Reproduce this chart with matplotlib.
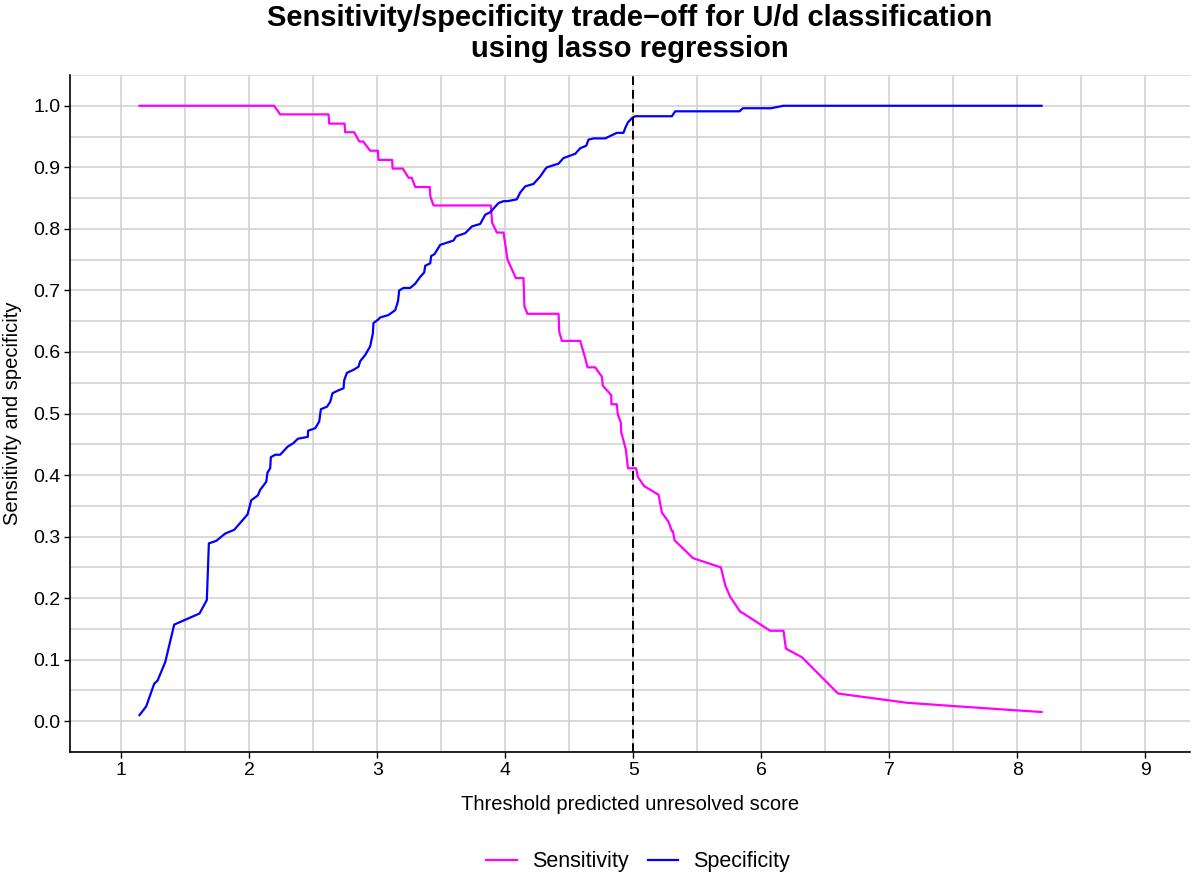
import matplotlib
matplotlib.use("Agg")
import matplotlib.pyplot as plt
import numpy as np

plt.rcParams['font.family'] = ['Liberation Sans', 'DejaVu Sans']

# Sensitivity curve (threshold, value)
sens_x = [1.143, 2.195, 2.242, 2.62, 2.625, 2.745, 2.75, 2.82, 2.86, 2.89,
          2.945, 3.005, 3.01, 3.117, 3.12, 3.2, 3.245, 3.27, 3.297, 3.41,
          3.415, 3.44, 3.888, 3.898, 3.935, 3.987, 4.018, 4.083, 4.143, 4.15,
          4.174, 4.417, 4.422, 4.443, 4.586, 4.625, 4.643, 4.703, 4.755, 4.763,
          4.828, 4.83, 4.872, 4.88, 4.904, 4.906, 4.943, 4.959, 5.023, 5.036,
          5.086, 5.198, 5.224, 5.276, 5.302, 5.31, 5.323, 5.467, 5.685, 5.719,
          5.758, 5.836, 5.862, 6.07, 6.174, 6.193, 6.318, 6.6, 7.138, 7.477,
          7.971, 8.19]
sens_y = [1.0, 1.0, 0.986, 0.986, 0.971, 0.971, 0.957, 0.957, 0.942, 0.942,
          0.927, 0.927, 0.912, 0.912, 0.898, 0.898, 0.883, 0.883, 0.868, 0.868,
          0.853, 0.838, 0.838, 0.81, 0.794, 0.794, 0.75, 0.72, 0.72, 0.674,
          0.662, 0.662, 0.633, 0.618, 0.618, 0.59, 0.575, 0.575, 0.56, 0.545,
          0.53, 0.515, 0.515, 0.498, 0.485, 0.47, 0.441, 0.411, 0.411, 0.397,
          0.382, 0.368, 0.339, 0.324, 0.309, 0.309, 0.294, 0.265, 0.25, 0.221,
          0.202, 0.178, 0.175, 0.147, 0.147, 0.118, 0.104, 0.045, 0.030, 0.025,
          0.018, 0.015]

# Specificity curve
spec_x = [1.143, 1.195, 1.258, 1.284, 1.344, 1.414, 1.612, 1.669, 1.685, 1.742,
          1.813, 1.883, 1.987, 2.016, 2.068, 2.086, 2.133, 2.143, 2.164, 2.169,
          2.203, 2.242, 2.3, 2.346, 2.38, 2.458, 2.46, 2.516, 2.547, 2.56,
          2.607, 2.633, 2.651, 2.69, 2.737, 2.742, 2.763, 2.815, 2.854, 2.867,
          2.906, 2.945, 2.966, 2.971, 3.01, 3.023, 3.088, 3.141, 3.162, 3.172,
          3.206, 3.258, 3.297, 3.336, 3.367, 3.375, 3.414, 3.422, 3.448, 3.492,
          3.596, 3.617, 3.688, 3.74, 3.805, 3.844, 3.883, 3.948, 3.987, 4.018,
          4.091, 4.117, 4.156, 4.221, 4.273, 4.313, 4.326, 4.417, 4.455, 4.547,
          4.586, 4.633, 4.651, 4.69, 4.781, 4.872, 4.924, 4.938, 4.959, 4.99,
          5.016, 5.302, 5.328, 5.83, 5.857, 6.076, 6.174, 8.19]
spec_y = [0.010, 0.024, 0.061, 0.066, 0.096, 0.157, 0.175, 0.197, 0.289, 0.293,
          0.305, 0.311, 0.336, 0.359, 0.367, 0.376, 0.389, 0.404, 0.411, 0.429,
          0.433, 0.433, 0.446, 0.452, 0.459, 0.462, 0.472, 0.476, 0.487, 0.507,
          0.511, 0.519, 0.533, 0.537, 0.541, 0.554, 0.566, 0.571, 0.576, 0.585,
          0.595, 0.609, 0.630, 0.647, 0.653, 0.656, 0.660, 0.668, 0.682, 0.700,
          0.704, 0.704, 0.711, 0.722, 0.729, 0.740, 0.744, 0.756, 0.759, 0.774,
          0.781, 0.788, 0.793, 0.804, 0.808, 0.823, 0.827, 0.842, 0.845, 0.845,
          0.848, 0.859, 0.869, 0.873, 0.885, 0.897, 0.900, 0.906, 0.915, 0.922,
          0.931, 0.935, 0.945, 0.947, 0.947, 0.956, 0.956, 0.964, 0.973, 0.980,
          0.983, 0.983, 0.991, 0.991, 0.996, 0.996, 1.0, 1.0]

cutoff = 5
x_ticks = [1, 2, 3, 4, 5, 6, 7, 8, 9]
y_ticks = [0.0, 0.1, 0.2, 0.3, 0.4, 0.5, 0.6, 0.7, 0.8, 0.9, 1.0]

fig = plt.figure(figsize=(11.96, 8.77), dpi=100)
ax = fig.add_axes([70/1196, 1-752/877, 1120/1196, 677/877])

ax.plot(sens_x, sens_y, color='#FF00FF', lw=1.6, label='Sensitivity', zorder=3)
ax.plot(spec_x, spec_y, color='#0000FF', lw=1.6, label='Specificity', zorder=3)
ax.axvline(cutoff, color='black', lw=1.4, dashes=(4.5, 2.5), zorder=4)

ax.set_xlim(0.6, 9.35)
ax.set_ylim(-0.05, 1.05)
ax.set_xticks(x_ticks)
ax.set_xticklabels([str(v) for v in x_ticks])
ax.set_yticks(y_ticks)
ax.set_yticklabels(['%.1f' % v for v in y_ticks])
ax.set_xticks(np.arange(1.5, 9.0, 1.0), minor=True)
ax.set_yticks(np.arange(-0.05, 1.06, 0.1), minor=True)
ax.grid(True, which='both', color='#D3D3D3', lw=1.2, zorder=0)
ax.set_axisbelow(True)
ax.tick_params(which='major', length=4, width=1, pad=3, labelsize=14, colors='black')
ax.tick_params(which='minor', length=0)

for s in ['top', 'right']:
    ax.spines[s].set_visible(False)
for s in ['left', 'bottom']:
    ax.spines[s].set_linewidth(1.2)
    ax.spines[s].set_color('black')

ax.set_xlabel('Threshold predicted unresolved score', fontsize=14.5, labelpad=12)
ax.set_ylabel('Sensitivity and specificity', fontsize=14.5, labelpad=8)
ax.set_title('Sensitivity/specificity trade\u2212off for U/d classification\nusing lasso regression',
             fontsize=21, fontweight='bold', linespacing=1.12, pad=13)

fig.legend(loc='center', bbox_to_anchor=(638/1196, 1-862/877), ncol=2, frameon=False,
           fontsize=15.5, handlelength=1.4, columnspacing=0.9, handletextpad=0.7)

fig.savefig('out.png', dpi=100)
